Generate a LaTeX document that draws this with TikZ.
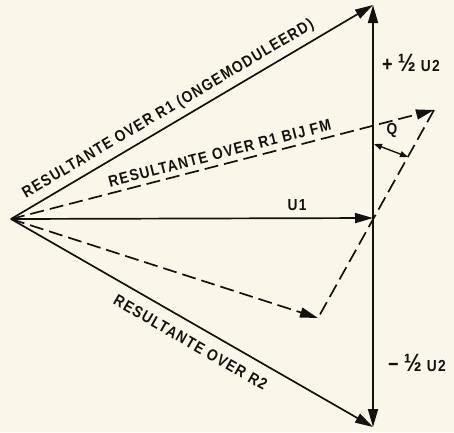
\documentclass[tikz,border=0pt]{standalone}
\usepackage{fontspec}
\setmainfont{Liberation Sans}[FakeStretch=0.86,LetterSpace=8]
\usepackage{tikz}
\usetikzlibrary{arrows.meta}
\definecolor{paper}{RGB}{251,246,234}
\definecolor{ink}{RGB}{20,18,16}
\newcommand{\halfsym}{{\fontsize{25}{25}\selectfont ½}}
\newcommand{\bigsign}[1]{{\fontsize{21}{21}\selectfont #1}}
\tikzset{vec/.style={-{Triangle[length=18pt,width=10pt]},line width=1.7pt,ink},
 dvec/.style={vec,dash pattern=on 14pt off 6pt},
 lbl/.style={font=\fontsize{16}{16}\bfseries\selectfont,text=ink,inner sep=1pt}}
\begin{document}
\begin{tikzpicture}[x=1pt,y=-1pt]
\fill[paper] (0,0) rectangle (454,432);
\useasboundingbox (0,0) rectangle (454,432);
\coordinate (O) at (11,219);
\coordinate (T) at (373,5);
\coordinate (M) at (373,218);
\coordinate (B) at (373,427);
\coordinate (F) at (434,110);
\coordinate (D) at (318,318);
\coordinate (Qa) at (374,144);
\coordinate (Qb) at (408,157);
% solid vectors
\draw[vec] (O)--(T) node[lbl,pos=0.455,sloped,above=5pt] {RESULTANTE OVER R1 (ONGEMODULEERD)};
\draw[vec] (O)--(M) node[lbl,pos=0.79,above=6pt] {U1};
\draw[vec] (O)--(B) node[lbl,pos=0.52,sloped,below=10pt] {RESULTANTE OVER R2};
\draw[vec] (M)--(T);
\draw[vec] (M)--(B);
% FM
\draw[dvec] (O)--(F) node[lbl,pos=0.5,sloped,above=4pt] {RESULTANTE OVER R1 BIJ FM};
\draw[dvec] (O)--(D);
\draw[line width=1.7pt,ink,dash pattern=on 14pt off 6pt] (F)--(D);
\draw[{Triangle[length=8pt,width=6pt]}-{Triangle[length=8pt,width=6pt]},line width=1.4pt,ink] (Qa)--(Qb);
\node[lbl] (q) at (392,130) {Q};
\node[lbl,anchor=west] (up) at (381,63) {\bigsign{+} \halfsym\ U2};
\node[lbl,anchor=west] (dn) at (387,363) {\bigsign{−} \halfsym\ U2};
\end{tikzpicture}
\end{document}
